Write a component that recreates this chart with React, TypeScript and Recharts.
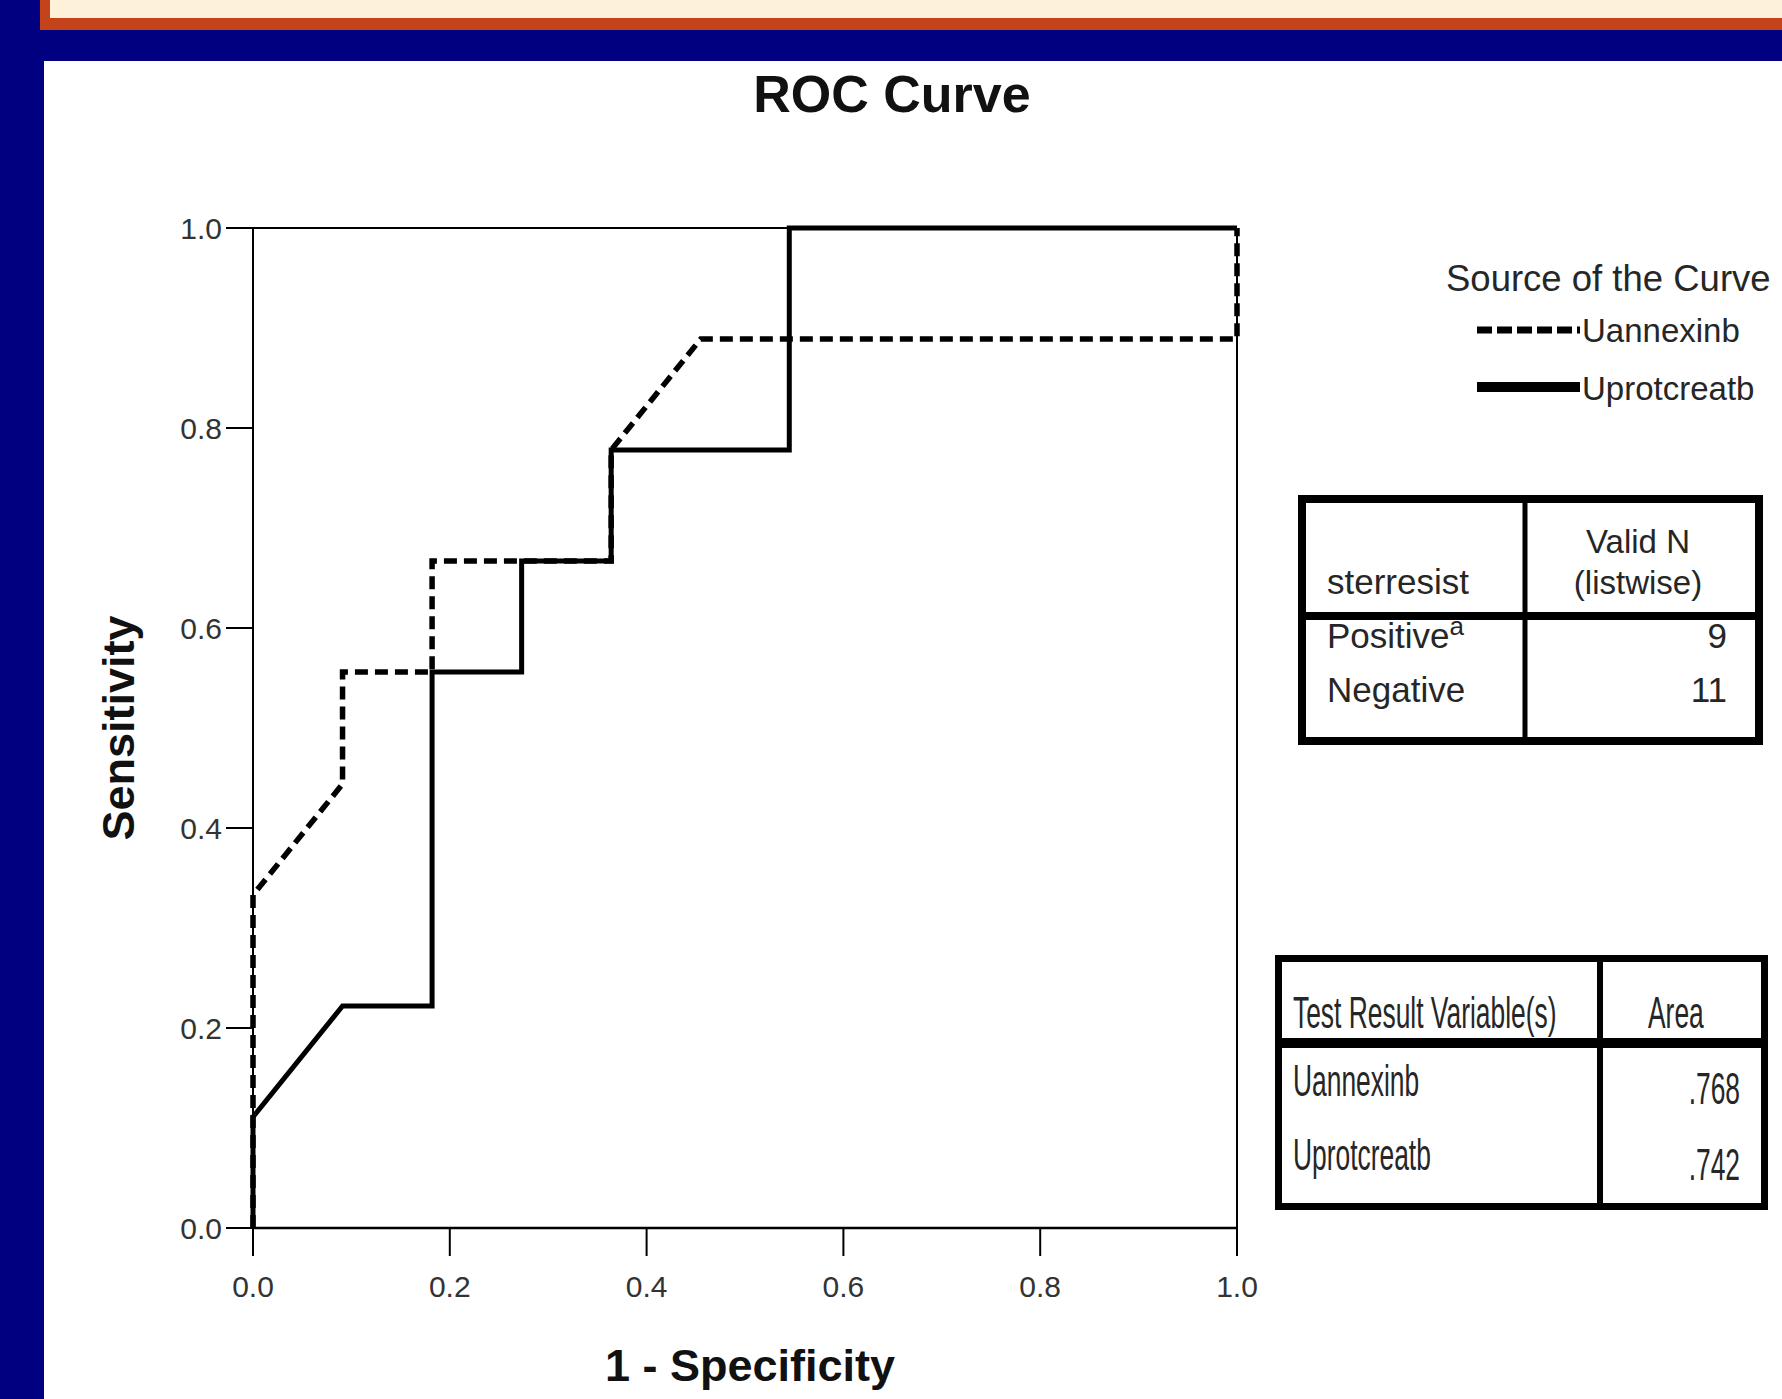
import React from 'react';
import { LineChart, Line, XAxis, YAxis, ReferenceLine } from 'recharts';

// ROC points (1 - specificity, sensitivity)
const annexFpr = [0, 0, 0.091, 0.091, 0.182, 0.182, 0.364, 0.364, 0.455, 1, 1];
const annexTpr = [0, 0.333, 0.444, 0.556, 0.556, 0.667, 0.667, 0.778, 0.889, 0.889, 1];
const protFpr = [0, 0, 0.091, 0.182, 0.182, 0.273, 0.273, 0.364, 0.364, 0.545, 0.545, 1];
const protTpr = [0, 0.111, 0.222, 0.222, 0.556, 0.556, 0.667, 0.667, 0.778, 0.778, 1, 1];

const axisTicks = [0, 0.2, 0.4, 0.6, 0.8, 1];

const seriesNames = ['Uannexinb', 'Uprotcreatb'];
const groupRows = [
  { label: 'Positive', sup: 'a', n: '9' },
  { label: 'Negative', sup: '', n: '11' },
];
const areaValues = ['.768', '.742'];

const annexData = annexFpr.map((x, i) => ({ x, y: annexTpr[i] }));
const protData = protFpr.map((x, i) => ({ x, y: protTpr[i] }));

const FONT = '"Liberation Sans", Arial, sans-serif';
const W = 1782;
const H = 1399;

function Backdrop() {
  return (
    <div style={{ position: 'absolute', left: 0, top: 0, width: W, height: H, background: '#000080', overflow: 'hidden' }}>
      <div style={{ position: 'absolute', left: 40, top: -10, width: W, height: 40, background: '#c4431b' }} />
      <div style={{ position: 'absolute', left: 50, top: 0, width: W, height: 18, background: '#fdf1da' }} />
      <div style={{ position: 'absolute', left: 44, top: 61, width: W, height: H, background: '#ffffff' }} />
    </div>
  );
}

// narrow text used in the area table (squeezed horizontally like the original)
function Narrow({ x, y, anchor, children }: { x: number; y: number; anchor?: 'start' | 'end'; children: React.ReactNode }) {
  return (
    <text
      transform={`translate(${x},${y}) scale(0.6,1)`}
      fontSize={44}
      textAnchor={anchor || 'start'}
      fill="#262626"
    >
      {children}
    </text>
  );
}

function Overlay() {
  const txt = '#262626';
  return (
    <svg width={W} height={H} style={{ position: 'absolute', left: 0, top: 0, pointerEvents: 'none' }} fontFamily={FONT}>
      <text x={892} y={112} textAnchor="middle" fontSize={52} fontWeight="bold" fill="#111">ROC Curve</text>
      <text x={750} y={1381} textAnchor="middle" fontSize={45} fontWeight="bold" fill="#111">1 - Specificity</text>
      <text transform="translate(134,728) rotate(-90)" textAnchor="middle" fontSize={45} fontWeight="bold" fill="#111">Sensitivity</text>

      {/* legend */}
      <text x={1446} y={291} fontSize={36.5} fill={txt}>Source of the Curve</text>
      <line x1={1477} x2={1580} y1={330} y2={330} stroke="#000" strokeWidth={7} strokeDasharray="15 5" />
      <line x1={1477} x2={1580} y1={387} y2={387} stroke="#000" strokeWidth={10} />
      <text x={1582} y={342} fontSize={33} fill={txt}>{seriesNames[0]}</text>
      <text x={1582} y={400} fontSize={33} fill={txt}>{seriesNames[1]}</text>

      {/* case processing table */}
      <rect x={1302} y={499} width={457} height={242} fill="#fff" stroke="#000" strokeWidth={8} />
      <line x1={1525} x2={1525} y1={503} y2={737} stroke="#000" strokeWidth={5} />
      <line x1={1306} x2={1755} y1={616} y2={616} stroke="#000" strokeWidth={8} />
      <text x={1327} y={594} fontSize={35} fill={txt}>sterresist</text>
      <text x={1638} y={553} fontSize={33} textAnchor="middle" fill={txt}>Valid N</text>
      <text x={1638} y={594} fontSize={33} textAnchor="middle" fill={txt}>(listwise)</text>
      {groupRows.map((r, i) => (
        <g key={r.label}>
          <text x={1327} y={648 + i * 54} fontSize={35} fill={txt}>
            {r.label}
            {r.sup && <tspan fontSize={26} dy={-13}>{r.sup}</tspan>}
          </text>
          <text x={1727} y={648 + i * 54} fontSize={35} textAnchor="end" fill={txt}>{r.n}</text>
        </g>
      ))}

      {/* area table */}
      <rect x={1278.5} y={958.5} width={486} height={248} fill="#fff" stroke="#000" strokeWidth={7} />
      <line x1={1600} x2={1600} y1={962} y2={1203} stroke="#000" strokeWidth={6} />
      <line x1={1282} x2={1764} y1={1043} y2={1043} stroke="#000" strokeWidth={10} />
      <Narrow x={1293} y={1028}>Test Result Variable(s)</Narrow>
      <Narrow x={1648} y={1028}>Area</Narrow>
      <Narrow x={1293} y={1096}>{seriesNames[0]}</Narrow>
      <Narrow x={1293} y={1170}>{seriesNames[1]}</Narrow>
      <Narrow x={1740} y={1104} anchor="end">{areaValues[0]}</Narrow>
      <Narrow x={1740} y={1180} anchor="end">{areaValues[1]}</Narrow>
    </svg>
  );
}

export default function App() {
  return (
    <div style={{ position: 'absolute', left: 0, top: 0, width: W, height: H, overflow: 'hidden', fontFamily: FONT }}>
      <Backdrop />
      <div style={{ position: 'absolute', left: 0, top: 0 }}>
        <LineChart width={W} height={H} margin={{ top: 228, right: 545, left: 173, bottom: 91 }}>
          <XAxis
            dataKey="x"
            type="number"
            domain={[0, 1]}
            ticks={axisTicks}
            tickFormatter={(v: number) => v.toFixed(1)}
            height={80}
            axisLine={{ stroke: '#000', strokeWidth: 2.5 }}
            tickLine={{ stroke: '#000', strokeWidth: 2 }}
            tickSize={28}
            tickMargin={20}
            tick={{ fontSize: 30, fill: '#333', fontFamily: FONT }}
          />
          <YAxis
            dataKey="y"
            type="number"
            domain={[0, 1]}
            ticks={axisTicks}
            tickFormatter={(v: number) => v.toFixed(1)}
            width={80}
            axisLine={{ stroke: '#000', strokeWidth: 2 }}
            tickLine={{ stroke: '#000', strokeWidth: 2 }}
            tickSize={27}
            tickMargin={4}
            tick={{ fontSize: 30, fill: '#333', fontFamily: FONT }}
          />
          <ReferenceLine y={1} stroke="#000" strokeWidth={2} />
          <ReferenceLine x={1} stroke="#000" strokeWidth={2} />
          <Line
            data={protData}
            dataKey="y"
            type="linear"
            stroke="#000"
            strokeWidth={5}
            strokeLinejoin="miter"
            dot={false}
            activeDot={false}
            isAnimationActive={false}
          />
          <Line
            data={annexData}
            dataKey="y"
            type="linear"
            stroke="#000"
            strokeWidth={5.5}
            strokeDasharray="13 7"
            dot={false}
            activeDot={false}
            isAnimationActive={false}
          />
        </LineChart>
      </div>
      <Overlay />
    </div>
  );
}
